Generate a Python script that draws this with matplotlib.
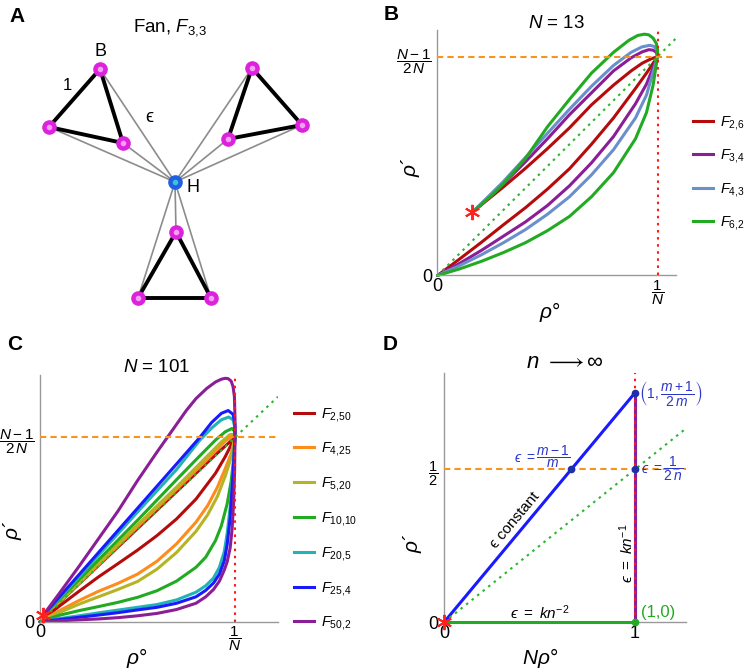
import numpy as np
import matplotlib
matplotlib.use("Agg")
import matplotlib.pyplot as plt
from matplotlib.lines import Line2D

plt.rcParams['font.family'] = ['Liberation Sans', 'DejaVu Sans']
plt.rcParams['mathtext.fontset'] = 'custom'
plt.rcParams['mathtext.rm'] = 'Liberation Sans'
plt.rcParams['mathtext.it'] = 'Liberation Sans:italic'
plt.rcParams['mathtext.bf'] = 'Liberation Sans:bold'
plt.rcParams['mathtext.fallback'] = 'stixsans'

EPS = '\u03f5'

# panel A: fan graph F_{3,3}, node positions in pixels
hub_xy = (175, 182)
blade_x = [[100, 49, 123], [252, 302, 228], [176, 138, 211]]
blade_y = [[69, 127, 143], [68, 125, 139], [232, 298, 298]]

# panel B: N = 13 (x in units of 1/N, y in units of (N-1)/(2N))
# each curve: lower branch from the origin up to (1, 1), then the upper branch back to the star
b_labels = [r'$F_{2{,}6}$', r'$F_{3{,}4}$', r'$F_{4{,}3}$', r'$F_{6{,}2}$']
b_colors = ['#b40c0c', '#8a1e96', '#6b8fcc', '#22aa22']
b_x = [
    [0, 0.1, 0.2, 0.3, 0.4, 0.5, 0.6, 0.7, 0.8, 0.9, 0.95, 1.0,
     0.97, 0.93, 0.88, 0.8, 0.7, 0.6, 0.5, 0.4, 0.3, 0.22, 0.158],
    [0, 0.1, 0.2, 0.3, 0.4, 0.5, 0.6, 0.7, 0.8, 0.9, 0.95, 1.0,
     0.995, 0.98, 0.96, 0.93, 0.88, 0.8, 0.7, 0.6, 0.5, 0.4, 0.3, 0.22, 0.158],
    [0, 0.1, 0.2, 0.3, 0.4, 0.5, 0.6, 0.7, 0.8, 0.9, 0.95, 1.0,
     0.998, 0.985, 0.965, 0.93, 0.88, 0.8, 0.7, 0.6, 0.5, 0.4, 0.3, 0.22, 0.158],
    [0, 0.1, 0.2, 0.3, 0.4, 0.5, 0.6, 0.7, 0.8, 0.9, 0.95, 0.98, 1.0,
     1.0, 0.995, 0.98, 0.96, 0.94, 0.91, 0.87, 0.8, 0.7, 0.6, 0.5, 0.4, 0.3, 0.25, 0.2, 0.158],
]
b_y = [
    [0, 0.075, 0.152, 0.232, 0.31, 0.395, 0.488, 0.6, 0.72, 0.855, 0.925, 1.0,
     0.99, 0.97, 0.935, 0.87, 0.78, 0.675, 0.58, 0.49, 0.405, 0.34, 0.289],
    [0, 0.055, 0.115, 0.18, 0.245, 0.32, 0.41, 0.515, 0.635, 0.785, 0.875, 1.0,
     1.02, 1.03, 1.032, 1.022, 0.995, 0.935, 0.835, 0.735, 0.625, 0.52, 0.42, 0.345, 0.289],
    [0, 0.045, 0.095, 0.15, 0.21, 0.28, 0.36, 0.46, 0.575, 0.72, 0.825, 1.0,
     1.03, 1.047, 1.052, 1.045, 1.02, 0.96, 0.865, 0.76, 0.65, 0.54, 0.43, 0.35, 0.289],
    [0, 0.03, 0.065, 0.105, 0.15, 0.205, 0.27, 0.36, 0.47, 0.625, 0.745, 0.87, 1.0,
     1.035, 1.06, 1.085, 1.1, 1.103, 1.097, 1.075, 1.02, 0.925, 0.805, 0.68, 0.535, 0.42, 0.37, 0.325, 0.289],
]
b_star = (0.158, 0.289)

# panel C: N = 101
c_labels = [r'$F_{2{,}50}$', r'$F_{4{,}25}$', r'$F_{5{,}20}$', r'$F_{10{,}10}$',
            r'$F_{20{,}5}$', r'$F_{25{,}4}$', r'$F_{50{,}2}$']
c_colors = ['#b40c0c', '#ff8c1a', '#b4b424', '#22aa22', '#22b4b4', '#1a1aff', '#8a1e96']
c_x = [
    [0, 0.1, 0.2, 0.3, 0.4, 0.5, 0.6, 0.7, 0.8, 0.9, 0.95, 1.0,
     0.9, 0.5, 0.1, 0.017],
    [0, 0.1, 0.2, 0.3, 0.4, 0.5, 0.6, 0.7, 0.8, 0.86, 0.91, 0.95, 0.98, 1.0,
     0.99, 0.95, 0.85, 0.7, 0.5, 0.3, 0.1, 0.017],
    [0, 0.1, 0.2, 0.3, 0.4, 0.5, 0.6, 0.7, 0.8, 0.86, 0.91, 0.95, 0.98, 1.0,
     0.995, 0.975, 0.93, 0.85, 0.7, 0.5, 0.3, 0.1, 0.017],
    [0, 0.1, 0.2, 0.3, 0.4, 0.5, 0.6, 0.7, 0.8, 0.85, 0.9, 0.93, 0.96, 0.98, 0.993, 1.0,
     1.0, 0.985, 0.95, 0.9, 0.82, 0.7, 0.5, 0.3, 0.1, 0.017],
    [0, 0.1, 0.2, 0.3, 0.4, 0.5, 0.6, 0.7, 0.8, 0.85, 0.89, 0.92, 0.945, 0.96, 0.975, 0.99, 1.0,
     1.0, 0.99, 0.968, 0.93, 0.88, 0.82, 0.7, 0.5, 0.3, 0.1, 0.017],
    [0, 0.1, 0.2, 0.3, 0.4, 0.5, 0.6, 0.7, 0.8, 0.85, 0.89, 0.92, 0.945, 0.96, 0.975, 0.99, 1.0,
     1.0, 0.99, 0.965, 0.93, 0.88, 0.82, 0.7, 0.5, 0.3, 0.1, 0.017],
    [0, 0.1, 0.2, 0.3, 0.4, 0.5, 0.6, 0.7, 0.8, 0.85, 0.89, 0.92, 0.945, 0.96, 0.975, 0.985, 0.993, 0.998, 1.0,
     1.0, 0.997, 0.99, 0.98, 0.965, 0.95, 0.93, 0.9, 0.855, 0.8, 0.75, 0.7, 0.6, 0.5, 0.4, 0.3, 0.2, 0.1, 0.017],
]
c_y = [
    [0, 0.085, 0.165, 0.243, 0.315, 0.388, 0.467, 0.557, 0.665, 0.805, 0.895, 1.0,
     0.905, 0.505, 0.105, 0.036],
    [0, 0.06, 0.115, 0.165, 0.208, 0.258, 0.328, 0.422, 0.54, 0.63, 0.73, 0.83, 0.91, 1.0,
     1.008, 0.98, 0.872, 0.718, 0.515, 0.31, 0.107, 0.036],
    [0, 0.05, 0.095, 0.135, 0.175, 0.218, 0.285, 0.375, 0.49, 0.58, 0.68, 0.79, 0.89, 1.0,
     1.015, 1.015, 0.975, 0.89, 0.73, 0.525, 0.315, 0.11, 0.036],
    [0, 0.035, 0.06, 0.082, 0.105, 0.132, 0.168, 0.22, 0.295, 0.35, 0.44, 0.52, 0.64, 0.76, 0.88, 1.0,
     1.03, 1.048, 1.03, 0.985, 0.9, 0.77, 0.55, 0.335, 0.12, 0.036],
    [0, 0.017, 0.032, 0.048, 0.063, 0.078, 0.093, 0.118, 0.16, 0.195, 0.237, 0.295, 0.38, 0.48, 0.62, 0.82, 1.0,
     1.05, 1.095, 1.11, 1.095, 1.05, 0.985, 0.825, 0.595, 0.36, 0.128, 0.036],
    [0, 0.012, 0.024, 0.036, 0.049, 0.064, 0.078, 0.1, 0.135, 0.17, 0.21, 0.258, 0.33, 0.42, 0.56, 0.8, 1.0,
     1.07, 1.125, 1.145, 1.13, 1.08, 1.0, 0.855, 0.615, 0.375, 0.135, 0.036],
    [0, 0.005, 0.01, 0.015, 0.022, 0.032, 0.045, 0.066, 0.1, 0.135, 0.175, 0.22, 0.28, 0.325, 0.4, 0.5, 0.65, 0.82, 1.0,
     1.1, 1.22, 1.275, 1.305, 1.318, 1.32, 1.315, 1.3, 1.265, 1.21, 1.145, 1.07, 0.92, 0.765, 0.6, 0.45, 0.3, 0.155, 0.036],
]
c_star = (0.017, 0.036)

# panel D: n -> infinity limits (x = N rho°, y = rho')
d_const_x, d_const_y = [0, 1], [0, 0.75]
d_kn1_x, d_kn1_y = [1, 1], [0, 0.75]
d_kn2_x, d_kn2_y = [0, 1], [0, 0]
d_dots_x, d_dots_y = [1, 0.667, 1], [0.75, 0.5, 0.5]
d_end = (1, 0)

W, H = 747, 671
fig = plt.figure(figsize=(W / 100, H / 100), dpi=100)


def fxy(x, y):
    return x / W, 1 - y / H


def ftext(x, y, s, **kw):
    fig.text(*fxy(x, y), s, ha=kw.pop('ha', 'center'), va=kw.pop('va', 'center'), **kw)


def add_panel(left, bottom, xunit, yunit, xmax, ymax):
    ax = fig.add_axes([left / W, 1 - bottom / H, xmax * xunit / W, ymax * yunit / H])
    ax.set_xlim(0, xmax)
    ax.set_ylim(0, ymax)
    for s in ['top', 'right']:
        ax.spines[s].set_visible(False)
    for s in ['left', 'bottom']:
        ax.spines[s].set_color('#999999')
        ax.spines[s].set_linewidth(1)
    ax.tick_params(length=0, labelsize=13)
    ax.tick_params(axis='x', pad=2)
    ax.tick_params(axis='y', pad=4)
    return ax


def set_ticks(ax, xt, xl, yt, yl, frac_size):
    ax.set_xticks(xt)
    ax.set_xticklabels(xl)
    ax.set_yticks(yt)
    ax.set_yticklabels(yl)
    for lab in ax.get_xticklabels() + ax.get_yticklabels():
        if 'frac' in lab.get_text():
            lab.set_fontsize(frac_size)


def ref_lines(ax, diag_slope, xmax, ymax, level):
    ax.plot([0, xmax], [0, diag_slope * xmax], color='#2db52d', lw=1.5, ls=(0, (1.2, 2.2)), zorder=5)
    ax.plot([0, xmax], [level, level], color='#f7941d', lw=1.5, ls=(0, (3, 2)), zorder=5)
    ax.plot([1, 1], [0, ymax], color='#ff1a1a', lw=1.5, ls=(0, (1.2, 2.2)), zorder=5)


star = dict(marker=(6, 2, 0), ms=11, mew=1.4, color='#ff2020', ls='none', zorder=7, clip_on=False)
curve_kw = dict(lw=2.2, clip_on=False, solid_joinstyle='round', solid_capstyle='round')

# ---- A ----
axA = fig.add_axes([0, 1 - 320 / H, 373 / W, 320 / H])
axA.set_xlim(0, 373)
axA.set_ylim(320, 0)
axA.axis('off')
for bx, by in zip(blade_x, blade_y):
    for i in range(3):
        axA.plot([hub_xy[0], bx[i]], [hub_xy[1], by[i]], color='#8c8c8c', lw=1.2, zorder=1)
    axA.plot(bx + [bx[0]], by + [by[0]], color='black', lw=2.8, zorder=2, solid_capstyle='round')
    axA.plot(bx, by, 'o', ms=9.5, color='#dd22dd', zorder=3)
    axA.plot(bx, by, 'o', ms=3, color='#f2a0f2', zorder=4)
axA.plot(*hub_xy, 'o', ms=9.5, color='#1f5fe0', zorder=3)
axA.plot(*hub_xy, 'o', ms=3, color='#40c0e0', zorder=4)
ftext(17, 17, 'A', fontsize=15, fontweight='bold')
ftext(170, 28, r'Fan, $F_{3{,}3}$', fontsize=13.5)
ftext(100, 52, 'B', fontsize=13)
ftext(67, 86, '1', fontsize=12)
ftext(149, 118, EPS, fontsize=13)
ftext(193, 188, 'H', fontsize=13)

# ---- B ----
axB = add_panel(437.5, 275.5, 220, 218.8, 1.085, 1.122)
for x, y, c in zip(b_x, b_y, b_colors):
    axB.plot(x, y, color=c, **curve_kw)
axB.plot(*b_star, **star)
ref_lines(axB, 1.0, 1.085, 1.122, 1.0)
set_ticks(axB, [0, 1], ['0', r'$\dfrac{1}{N}$'], [0, 1], ['0', r'$\dfrac{N-1}{2\,N}$'], 11)
axB.legend([Line2D([], [], color=c, lw=2.2) for c in b_colors], b_labels,
           loc='center left', bbox_to_anchor=fxy(686, 173), bbox_transform=fig.transFigure,
           frameon=False, borderpad=0, handlelength=1.35, handletextpad=0.45,
           labelspacing=1.05, fontsize=10.5)
ftext(391, 15, 'B', fontsize=15, fontweight='bold')
ftext(556, 23, r'$N$ = 13', fontsize=13.5)
ftext(550, 312, r'$\rho$°', fontsize=15)
ftext(411, 167, r'$\rho$´', fontsize=15, rotation=90)

# ---- C ----
axC = add_panel(40, 621.7, 195, 184.4, 1.22, 1.338)
for x, y, c in zip(c_x, c_y, c_colors):
    axC.plot(x, y, color=c, **curve_kw)
axC.plot(*c_star, **star)
ref_lines(axC, 1.0, 1.22, 1.338, 1.0)
set_ticks(axC, [0, 1], ['0', r'$\dfrac{1}{N}$'], [0, 1], ['0', r'$\dfrac{N-1}{2\,N}$'], 11)
axC.legend([Line2D([], [], color=c, lw=2.2) for c in c_colors], c_labels,
           loc='center left', bbox_to_anchor=fxy(287, 519), bbox_transform=fig.transFigure,
           frameon=False, borderpad=0, handlelength=1.35, handletextpad=0.45,
           labelspacing=1.15, fontsize=10.5)
ftext(15, 345, 'C', fontsize=15, fontweight='bold')
ftext(157, 368, r'$N$ = 101', fontsize=13.5)
ftext(137, 658, r'$\rho$°', fontsize=15)
ftext(13, 530, r'$\rho$´', fontsize=15, rotation=90)

# ---- D ----
axD = add_panel(444, 622.3, 191, 306, 1.267, 0.814)
axD.plot(d_kn1_x, d_kn1_y, color='#8a1e96', lw=2.2, zorder=3)
axD.plot(d_const_x, d_const_y, color='#1a1aff', lw=2.2, zorder=3, clip_on=False)
axD.plot(d_kn2_x, d_kn2_y, color='#22aa22', lw=2.2, zorder=3, clip_on=False)
ref_lines(axD, 0.5, 1.267, 0.814, 0.5)
axD.plot(d_dots_x, d_dots_y, 'o', ms=4.5, color='#1f2fa8', zorder=6)
axD.plot(*d_end, 'o', ms=4.5, color='#22aa22', zorder=6, clip_on=False)
axD.plot(0, 0, **star)
set_ticks(axD, [0, 1], ['0', '1'], [0, 0.5], ['0', r'$\dfrac{1}{2}$'], 10.5)
ftext(390, 345, 'D', fontsize=15, fontweight='bold')
ftext(565, 362, r'$n\ \longrightarrow\infty$', fontsize=16)
ftext(540, 658, r'$N\rho$°', fontsize=15)
ftext(413, 543, r'$\rho$´', fontsize=15, rotation=90)
blue_txt = '#2b35c8'
ftext(571, 457, '$' + EPS + r'\ =\dfrac{m-1}{m}$', fontsize=10, color=blue_txt, ha='right')
ftext(639, 393, r'$\left(1,\dfrac{m+1}{2\,m}\right)$', fontsize=10, color=blue_txt, ha='left')
ftext(641, 469, '$' + EPS + r'\ =\dfrac{1}{2\,n}$', fontsize=10, color=blue_txt, ha='left')
ftext(515, 520, EPS + ' constant', fontsize=11, rotation=50)
ftext(627, 553, '$' + EPS + r'\ =\ kn^{-1}$', fontsize=11, rotation=90)
ftext(540, 613, '$' + EPS + r'\ =\ kn^{-2}$', fontsize=11)
ftext(641, 612, '(1,0)', fontsize=12, color='#22aa22', ha='left')

fig.savefig('out.png', dpi=100)
